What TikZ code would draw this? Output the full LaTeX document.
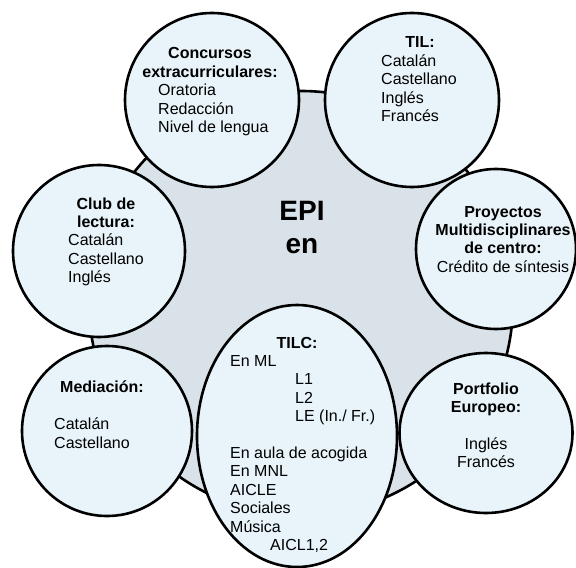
\documentclass[tikz,border=0pt]{standalone}
\usepackage{fontspec}
\setmainfont{Liberation Sans}
\usetikzlibrary{shapes.geometric}
\definecolor{hubfill}{HTML}{D8E2E8}
\definecolor{satfill}{HTML}{E8F4FA}
\begin{document}
\begin{tikzpicture}[x=1bp,y=-1bp,
  hub/.style={circle, draw=black, line width=2.6bp, fill=hubfill, inner sep=0pt},
  sat/.style={circle, draw=black, line width=2.6bp, fill=satfill, inner sep=0pt},
  satell/.style={ellipse, draw=black, line width=2.6bp, fill=satfill, inner sep=0pt},
  txt/.style={inner sep=0pt, anchor=base west, font=\fontsize{16bp}{18.4bp}\selectfont},
  ctxt/.style={txt, anchor=base},
  btxt/.style={inner sep=0pt, anchor=base, font=\fontsize{16bp}{18.4bp}\selectfont\bfseries},
  bigtxt/.style={inner sep=0pt, anchor=base, font=\fontsize{28bp}{33bp}\selectfont\bfseries}
]
\useasboundingbox (0,0) rectangle (576,568);
% central circle
\node[hub, minimum size=424bp] (hub) at (301,303) {};
\node[bigtxt] (epi) at (302,220) {EPI};
\node[bigtxt] (en) at (302,253) {en};
% satellites
\node[sat, minimum size=174bp] (conc) at (212,100) {};
\node[sat, minimum size=174bp] (til) at (412,100) {};
\node[sat, minimum size=172bp] (club) at (99,251) {};
\node[sat, minimum size=160bp] (proy) at (496,249) {};
\node[sat, minimum size=170bp] (med) at (107,431) {};
\node[satell, minimum width=173bp, minimum height=160bp] (port) at (486,433) {};
\node[satell, minimum width=200bp, minimum height=262bp] (tilc) at (297,436) {};
% Concursos
\node[btxt] (c1) at (210,59) {Concursos};
\node[btxt] (c2) at (210,77.4) {extracurriculares:};
\node[txt] (c3) at (158,95.8) {Oratoria};
\node[txt] (c4) at (158,114.2) {Redacción};
\node[txt] (c5) at (158,132.6) {Nivel de lengua};
% TIL
\node[btxt] (t1) at (420,48) {TIL:};
\node[txt] (t2) at (381,66.4) {Catalán};
\node[txt] (t3) at (381,84.8) {Castellano};
\node[txt] (t4) at (381,103.2) {Inglés};
\node[txt] (t5) at (381,121.6) {Francés};
% Club de lectura
\node[btxt] (k1) at (106,209) {Club de};
\node[btxt] (k2) at (106,227.4) {lectura:};
\node[txt] (k3) at (68,245.8) {Catalán};
\node[txt] (k4) at (68,264.2) {Castellano};
\node[txt] (k5) at (68,282.6) {Inglés};
% Proyectos
\node[btxt] (p1) at (503,217) {Proyectos};
\node[btxt] (p2) at (503,235.4) {Multidisciplinares};
\node[btxt] (p3) at (503,253.8) {de centro:};
\node[ctxt] (p4) at (503,272.2) {Crédito de síntesis};
% Mediacion
\node[btxt] (m1) at (102,392) {Mediación:};
\node[txt] (m2) at (54,429.6) {Catalán};
\node[txt] (m3) at (54,448) {Castellano};
% Portfolio
\node[btxt] (f1) at (486,394) {Portfolio};
\node[btxt] (f2) at (486,412.4) {Europeo:};
\node[ctxt] (f3) at (486,449.4) {Inglés};
\node[ctxt] (f4) at (486,467.8) {Francés};
% TILC
\node[btxt] (l1) at (297,348) {TILC:};
\node[txt] (l2) at (230,366.4) {En ML};
\node[txt] (l3) at (295,384.8) {L1};
\node[txt] (l4) at (295,403.2) {L2};
\node[txt] (l5) at (295,421.6) {LE (In./ Fr.)};
\node[txt] (l6) at (230,458.4) {En aula de acogida};
\node[txt] (l7) at (230,476.8) {En MNL};
\node[txt] (l8) at (230,495.2) {AICLE};
\node[txt] (l9) at (230,513.6) {Sociales};
\node[txt] (l10) at (230,532) {Música};
\node[txt] (l11) at (270,550.4) {AICL1,2};
\end{tikzpicture}
\end{document}
